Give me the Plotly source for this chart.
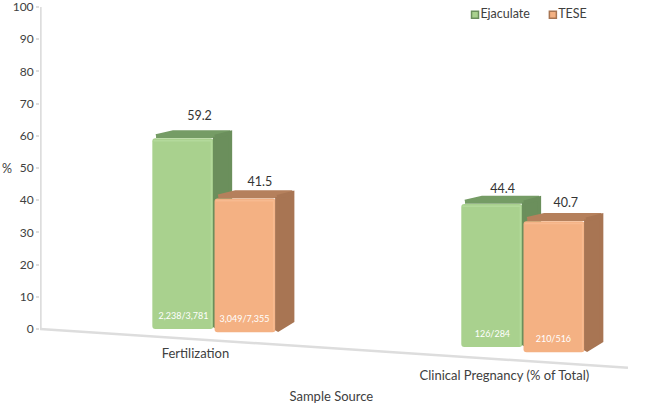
import plotly.graph_objects as go

categories = ["Fertilization", "Clinical Pregnancy (% of Total)"]
ejaculate = [59.2, 44.4]
tese = [41.5, 40.7]
ejaculate_counts = ["2,238/3,781", "126/284"]
tese_counts = ["3,049/7,355", "210/516"]
y_ticks = [0, 10, 20, 30, 40, 50, 60, 70, 80, 90, 100]
floor_x = [-0.563, 1.34]
floor_y = [0, -12.0]
ejaculate_floor = [0.0, -5.6]
tese_floor = [-1.0, -7.2]

PX_X = 309.0
PX_Y = 3.22
BAR_W = 61 / PX_X
DX = 19 / PX_X
DY = 8.5 / PX_Y
FONT = "Lato"
TXT = "#404040"

fig = go.Figure()


def poly(xs, ys, color, xa, ya):
    fig.add_trace(go.Scatter(x=xs + xs[:1], y=ys + ys[:1], mode="lines", fill="toself", fillcolor=color,
                             line=dict(color=color, width=4, shape="linear"),
                             hoverinfo="skip", showlegend=False, xaxis=xa, yaxis=ya))


def line(xs, ys, color, width, xa, ya):
    fig.add_trace(go.Scatter(x=xs, y=ys, mode="lines", line=dict(color=color, width=width),
                             hoverinfo="skip", showlegend=False, xaxis=xa, yaxis=ya))


def series(name, vals, floors, sign, face, side, top, bevel, xa, ya):
    centers = [i + sign * (BAR_W / 2 + 0.002) for i in range(len(vals))]
    for c, v, f in zip(centers, vals, floors):
        l, r = c - BAR_W / 2, c + BAR_W / 2
        t = f + v
        poly([l + 0.012, r - 0.004, r + DX - 0.007, l + DX + 0.006],
             [t + 0.7, t + 0.7, t + DY - 0.7, t + DY - 0.7], top, xa, ya)
        poly([r + 0.005, r + DX - 0.007, r + DX - 0.007, r + 0.005],
             [t + 0.5, t + DY - 0.9, f + DY * 1.15 + 0.5, f + 0.6], side, xa, ya)
    fig.add_trace(go.Bar(x=centers, y=vals, base=floors, width=BAR_W, name=name,
                         marker=dict(color=face, line=dict(width=0)),
                         hoverinfo="skip", showlegend=False, xaxis=xa, yaxis=ya))
    for c, v, f in zip(centers, vals, floors):
        l, r = c - BAR_W / 2, c + BAR_W / 2
        t = f + v
        line([l + 0.004, r - 0.006, r - 0.006], [t - 0.7, t - 0.7, f + 0.5], bevel, 1.5, xa, ya)


series("Ejaculate", ejaculate, ejaculate_floor, -1, "#A9D18E", "#6B8F5C", "#759C65", "#B3D99B", "x", "y")
series("TESE", tese, tese_floor, 1, "#F4B183", "#A87553", "#B5805C", "#F7BA90", "x2", "y2")

# axis lines drawn in data space
line([-0.5615, -0.5615], [0, 100], "#DDDDDD", 2.5, "x", "y")
line(floor_x, floor_y, "#DDDDDD", 2.5, "x", "y")


def labels(xs, ys, texts, size, color):
    fig.add_trace(go.Scatter(x=xs, y=ys, mode="text", text=texts, textposition="middle center",
                             textfont=dict(family=FONT, size=size, color=color),
                             hoverinfo="skip", showlegend=False, xaxis="x2", yaxis="y2"))


for sign, vals, floors, counts, lift, shift in [
        (-1, ejaculate, ejaculate_floor, ejaculate_counts, (6.6, 4.5), (0.052, 0.033)),
        (1, tese, tese_floor, tese_counts, (5.0, 5.4), (0.05, 0.04))]:
    xs = [i + sign * BAR_W / 2 for i in range(2)]
    labels([x + s for x, s in zip(xs, shift)], [f + v + d for v, f, d in zip(vals, floors, lift)],
           [f"{v:.1f}" for v in vals], 12.5, "#333333")
    labels(xs, [f + 3.9 for f in floors], counts, 9, "#FFFFFF")

labels([-0.06, 0.94], [-7.9, -14.9], categories, 13, TXT)
labels([0.38], [-21.5], ["Sample Source"], 13, TXT)

# legend keys and texts
for name, kx, face, edge in [("Ejaculate", 0.845, "#A9D18E", "#6B8F5C"), ("TESE", 1.097, "#F4B183", "#A87553")]:
    fig.add_trace(go.Scatter(x=[kx], y=[97.6], mode="markers+text", text=[name], textposition="middle right",
                             marker=dict(symbol="square", size=7, color=face, line=dict(color=edge, width=1.5)),
                             textfont=dict(family=FONT, size=12.5, color=TXT), name=name,
                             hoverinfo="skip", showlegend=False, xaxis="x2", yaxis="y2"))

XR = [-0.563, 1.379]
YR = [-24.53, 102.17]
fig.update_layout(
    width=661, height=408, autosize=False,
    margin=dict(l=40, r=21, t=0, b=0),
    paper_bgcolor="white", plot_bgcolor="white",
    barmode="overlay", showlegend=False, barcornerradius=3,
    xaxis=dict(range=XR, visible=False, fixedrange=True),
    xaxis2=dict(range=XR, visible=False, overlaying="x", fixedrange=True),
    yaxis=dict(range=YR, tickmode="array", tickvals=y_ticks, ticktext=[str(t) for t in y_ticks],
               showgrid=False, zeroline=False, showline=False, ticks="outside", ticklen=3,
               tickcolor="#DDDDDD", tickwidth=1.5, automargin=False, ticklabeloverflow="allow",
               tickfont=dict(family=FONT, size=12, color=TXT), fixedrange=True),
    yaxis2=dict(range=YR, visible=False, overlaying="y", fixedrange=True),
    annotations=[dict(text="%", xref="paper", yref="y", x=-0.055, y=50, xanchor="center",
                      yanchor="middle", showarrow=False, font=dict(family=FONT, size=12.5, color=TXT))],
)
for tr in fig.data:
    tr.update(cliponaxis=False)

fig.write_html("out.html", config=dict(displayModeBar=False),
               post_script="document.body.style.margin='0';")
